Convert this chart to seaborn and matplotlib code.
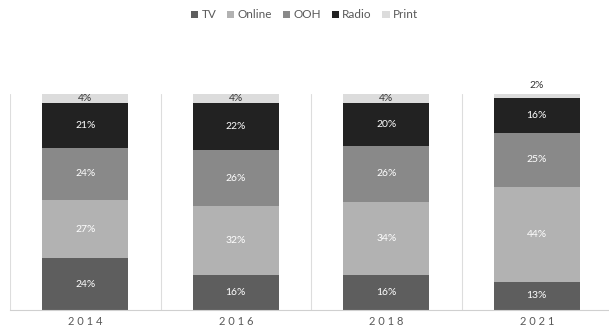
import matplotlib
matplotlib.use("Agg")
import matplotlib.pyplot as plt
import numpy as np
import seaborn as sns
from matplotlib.patches import Patch

years = ["2014", "2016", "2018", "2021"]
series = ["TV", "Online", "OOH", "Radio", "Print"]
tv = [24, 16, 16, 13]
online = [27, 32, 34, 44]
ooh = [24, 26, 26, 25]
radio = [21, 22, 20, 16]
print_ = [4, 4, 4, 2]

values = [tv, online, ooh, radio, print_]
colors = ["#5e5e5e", "#b2b2b2", "#898989", "#222222", "#dcdcdc"]
label_colors = ["white", "white", "white", "white", "#333333"]

sns.set_theme(style="white")
plt.rcParams["font.family"] = ["Lato", "DejaVu Sans"]

fig = plt.figure(figsize=(6.09, 3.26), dpi=100)
ax = fig.add_axes([10 / 609, 16 / 326, 602 / 609, 216 / 326])

bottom = np.zeros(len(years))
for name, vals, col, lc in zip(series, values, colors, label_colors):
    sns.barplot(x=years, y=vals, bottom=bottom, color=col, width=0.57,
                ax=ax, linewidth=0, saturation=1)
    for i, v in enumerate(vals):
        if v <= 2:
            # too thin for an inside label, put it above the bar
            ax.text(i, bottom[i] + v + 2, f"{v}%", ha="center", va="bottom",
                    fontsize=7.5, color="#333333", clip_on=False)
        else:
            ax.text(i, bottom[i] + v / 2, f"{v}%", ha="center", va="center",
                    fontsize=7.5, color=lc)
    bottom += np.array(vals)

ax.set_xlim(-0.5, 3.5)
ax.set_ylim(0, 100)
ax.set_yticks([])
ax.set_ylabel("")
for x in [-0.5, 0.5, 1.5, 2.5]:
    ax.axvline(x, color="#dddddd", linewidth=0.8, zorder=0)
for s in ["top", "right", "left"]:
    ax.spines[s].set_visible(False)
ax.spines["bottom"].set_color("#d0d0d0")
ax.spines["bottom"].set_linewidth(0.8)
ax.tick_params(axis="x", length=0, pad=4.5, labelsize=8, labelcolor="#595959")
ax.set_xticks(range(len(years)))
ax.set_xticklabels([" ".join(y) for y in years])

handles = [Patch(facecolor=c, edgecolor="none") for c in colors]
fig.legend(handles, series, loc="center", bbox_to_anchor=(0.5, 1 - 15 / 326),
           ncol=5, frameon=False, fontsize=8.5, handlelength=0.6, handleheight=0.6,
           handletextpad=0.3, columnspacing=0.9, labelcolor="#595959")

fig.savefig("out.png", dpi=100)
